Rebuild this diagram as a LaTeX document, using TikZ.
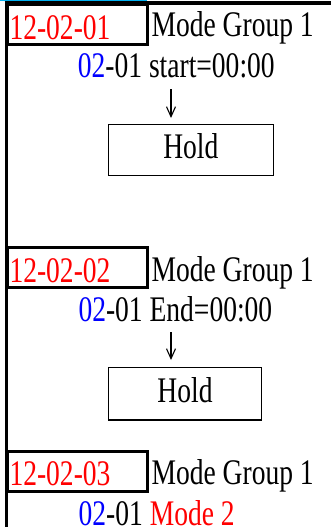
\documentclass[tikz,border=0pt]{standalone}
\usepackage{fontspec}
\setmainfont{Liberation Serif}[FakeStretch=0.765]
\usetikzlibrary{arrows.meta}
\definecolor{selcyan}{RGB}{0,176,240}
\newcommand{\bigtxt}{\fontsize{36pt}{40pt}\selectfont}

\begin{document}
\begin{tikzpicture}[x=1pt,y=-1pt,
	txt/.style={anchor=base west,inner sep=0pt,font=\bigtxt},
	idbox/.style={draw,line width=3pt,anchor=north west,inner xsep=1.7pt,inner ysep=2pt,
		text width=136.1pt,align=left,text height=29pt,text depth=0pt,minimum height=40pt,
		font=\bigtxt,text=red},
	holdbox/.style={draw,line width=1.2pt,text height=17pt,text depth=0pt,font=\bigtxt},
	downarrow/.style={-{Straight Barb[length=10pt,width=9pt]},line width=1.1pt}]
	\useasboundingbox (0,0) rectangle (331,527);
	
	%frame
	\draw[line width=1.3pt,selcyan] (0,0.65)--(147,0.65);
	\draw[line width=4pt] (4.6,3.5)--(331,3.5);
	\draw[line width=3.3pt] (6.3,1.3)--(6.3,527);
	
	%12-02-01
	\node[idbox] (id1) at (6.3,3.5) {12-02-01};
	\node[txt] (grp1) at (151.4,36.7) {Mode Group 1};
	\node[txt] (sub1) at (77.7,77.7) {\textcolor{blue}{02}-01 start=00:00};
	\coordinate (arr1top) at (171,89);
	\coordinate (arr1bot) at (171,118);
	\draw[downarrow] (arr1top)--(arr1bot);
	\node[holdbox,minimum width=165pt,minimum height=51.4pt] (hold1) at (190.8,150) {Hold};
	
	%12-02-02
	\node[idbox] (id2) at (6.3,246.3) {12-02-02};
	\node[txt] (grp2) at (151.4,281.7) {Mode Group 1};
	\node[txt] (sub2) at (78.3,321) {\textcolor{blue}{02}-01 End=00:00};
	\coordinate (arr2top) at (171,332);
	\coordinate (arr2bot) at (171,360);
	\draw[downarrow] (arr2top)--(arr2bot);
	\node[holdbox,minimum width=153.4pt,minimum height=52.3pt] (hold2) at (185,393.9) {Hold};
	
	%12-02-03
	\node[idbox] (id3) at (6.3,449.5) {12-02-03};
	\node[txt] (grp3) at (151.4,484.5) {Mode Group 1};
	\node[txt] (sub3) at (78.5,525) {\textcolor{blue}{02}-01 \textcolor{red}{Mode 2}};
	
\end{tikzpicture}
\end{document}
